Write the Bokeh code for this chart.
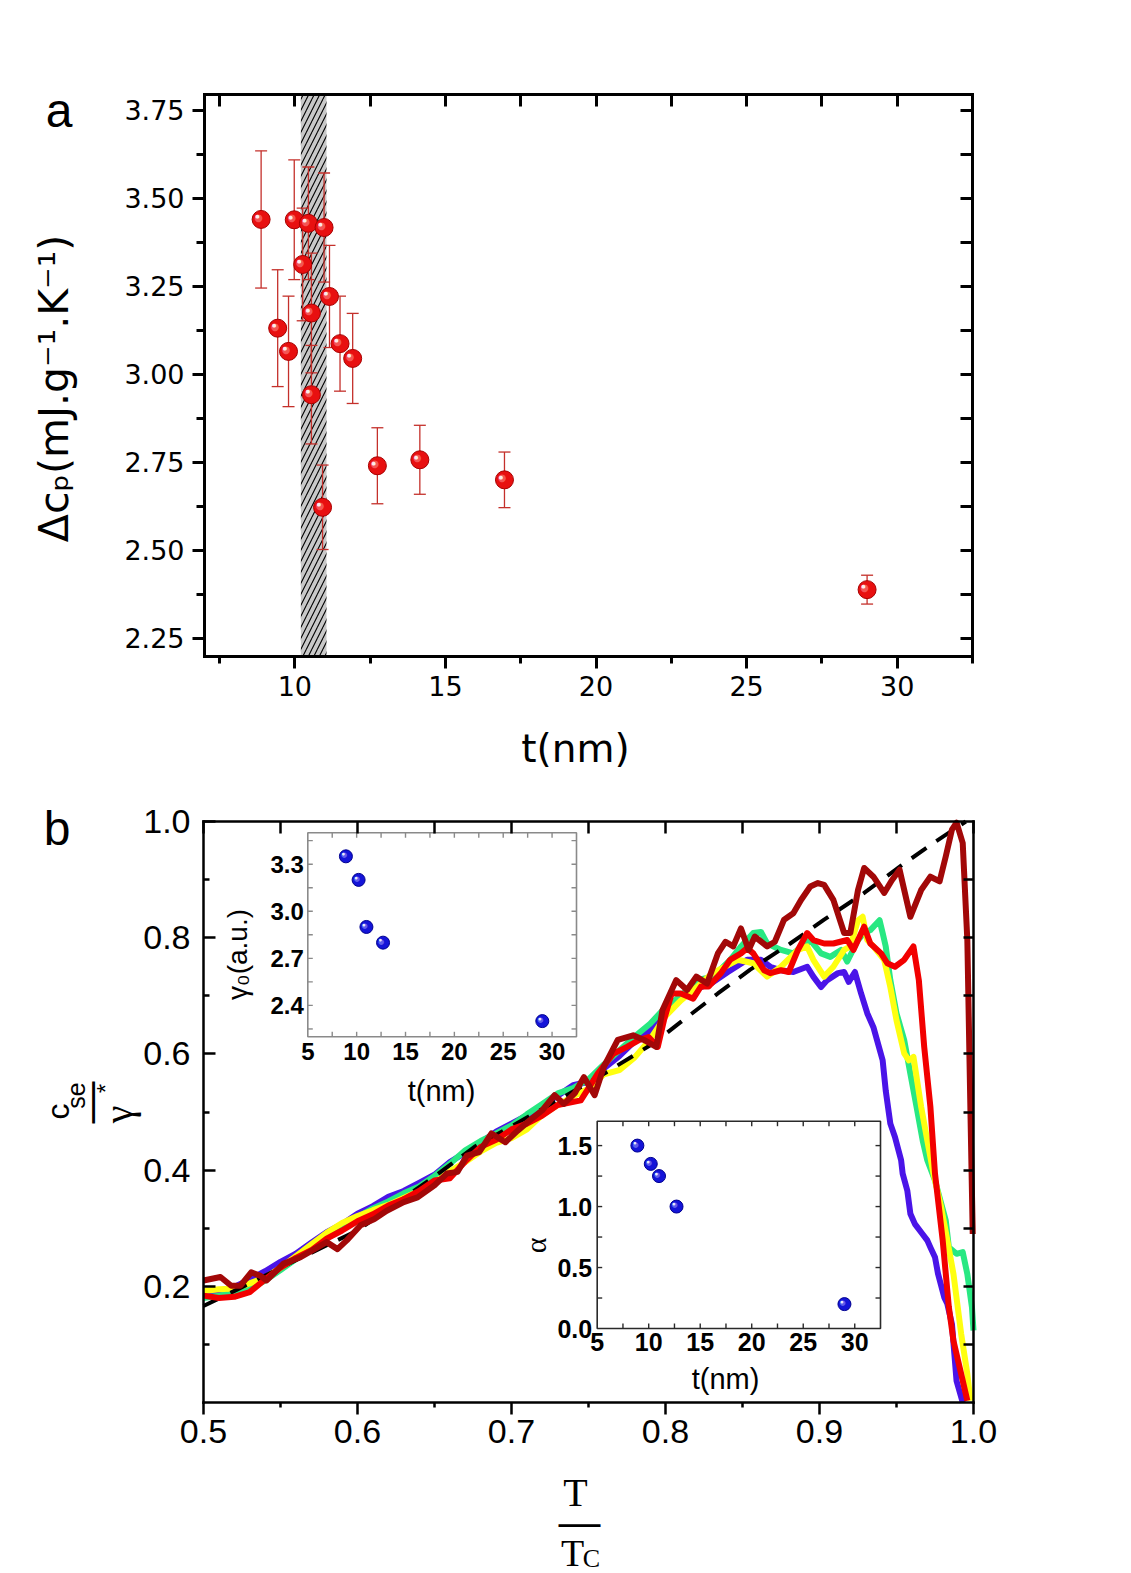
import math
from bokeh.plotting import figure
from bokeh.layouts import column
from bokeh.models import (Range1d, LinearAxis, FixedTicker, NumeralTickFormatter,
                          CustomJSTickFormatter)
from bokeh.core.properties import value
from bokeh.embed import file_html
from bokeh.resources import INLINE

SANS = "Liberation Sans"
WIDE = "DejaVu Sans"
SERIF = "Liberation Serif"
PAGE_W = 1131

# ---------------- panel a: jump of the specific heat vs film thickness ----------------
thickness_nm = [8.88, 9.43, 9.79, 9.98, 10.26, 10.45, 10.55, 10.55, 10.97,
                10.92, 11.15, 11.50, 11.92, 12.74, 14.15, 16.96, 29.0]
delta_cp = [3.440, 3.131, 3.065, 3.439, 3.312, 3.429, 3.174, 2.942, 3.417,
            2.622, 3.221, 3.087, 3.045, 2.740, 2.757, 2.700, 2.388]
delta_cp_err = [0.195, 0.166, 0.157, 0.170, 0.160, 0.160, 0.170, 0.140, 0.155,
                0.120, 0.145, 0.135, 0.128, 0.108, 0.098, 0.079, 0.041]
shaded_t = (10.2, 11.05)

# ---------------- panel b: normalised electronic specific heat ----------------
blue_T = [0.50, 0.51, 0.52, 0.53, 0.54, 0.55, 0.56, 0.57, 0.58, 0.59,
          0.60, 0.61, 0.62, 0.63, 0.64, 0.65, 0.66, 0.67, 0.68, 0.69,
          0.70, 0.71, 0.72, 0.73, 0.74, 0.75, 0.76, 0.77, 0.78, 0.79,
          0.80, 0.81, 0.82, 0.83, 0.84,
          0.853, 0.862, 0.868, 0.875, 0.883, 0.892, 0.896, 0.901, 0.905, 0.912,
          0.916, 0.919, 0.923, 0.927, 0.931, 0.935, 0.941, 0.943, 0.946, 0.949,
          0.953, 0.954, 0.957, 0.959, 0.962, 0.966, 0.970, 0.972, 0.975, 0.977,
          0.981, 0.983, 0.986, 0.989, 0.993]
blue_c = [0.190, 0.192, 0.199, 0.212, 0.226, 0.242, 0.256, 0.275, 0.293, 0.307,
          0.325, 0.338, 0.354, 0.364, 0.378, 0.392, 0.414, 0.430, 0.447, 0.466,
          0.480, 0.494, 0.512, 0.528, 0.546, 0.552, 0.575, 0.596, 0.622, 0.640,
          0.668, 0.695, 0.712, 0.722, 0.740,
          0.762, 0.762, 0.750, 0.744, 0.741, 0.750, 0.733, 0.715, 0.727, 0.739,
          0.741, 0.724, 0.741, 0.704, 0.670, 0.646, 0.589, 0.537, 0.480, 0.457,
          0.417, 0.394, 0.365, 0.325, 0.307, 0.293, 0.279, 0.267, 0.250, 0.221,
          0.181, 0.170, 0.135, 0.037, 0.000]

green_T = [0.50, 0.51, 0.52, 0.53, 0.54, 0.55, 0.56, 0.57, 0.58, 0.59,
           0.60, 0.61, 0.62, 0.63, 0.64, 0.65, 0.66, 0.67, 0.68, 0.69,
           0.70, 0.71, 0.72, 0.73, 0.74, 0.75, 0.76, 0.77, 0.78, 0.79,
           0.80, 0.81, 0.82,
           0.831, 0.842, 0.849, 0.857, 0.862, 0.866, 0.875, 0.883, 0.894, 0.901,
           0.907, 0.914, 0.918, 0.925, 0.929, 0.933, 0.939, 0.941, 0.943, 0.946,
           0.950, 0.955, 0.959, 0.963, 0.967, 0.970, 0.975, 0.982, 0.984, 0.989,
           0.993, 0.996, 0.999, 1.000]
green_c = [0.180, 0.184, 0.189, 0.196, 0.210, 0.228, 0.247, 0.265, 0.282, 0.301,
           0.319, 0.334, 0.346, 0.360, 0.372, 0.390, 0.411, 0.434, 0.450, 0.463,
           0.477, 0.496, 0.514, 0.532, 0.541, 0.556, 0.582, 0.606, 0.630, 0.652,
           0.680, 0.700, 0.727,
           0.733, 0.762, 0.785, 0.808, 0.810, 0.790, 0.779, 0.773, 0.796, 0.773,
           0.767, 0.779, 0.759, 0.796, 0.808, 0.813, 0.830, 0.808, 0.785, 0.727,
           0.670, 0.624, 0.566, 0.509, 0.451, 0.417, 0.382, 0.313, 0.267, 0.256,
           0.259, 0.221, 0.164, 0.124]

yellow_T = [0.50, 0.51, 0.52, 0.53, 0.54, 0.55, 0.56, 0.57, 0.58, 0.59,
            0.60, 0.61, 0.62, 0.63, 0.64, 0.65, 0.66, 0.67, 0.68, 0.69,
            0.70, 0.71, 0.72, 0.73, 0.74, 0.75, 0.76, 0.77, 0.78, 0.79,
            0.80, 0.81, 0.82, 0.83,
            0.847, 0.857, 0.866, 0.875, 0.886, 0.892, 0.896, 0.903, 0.909, 0.916,
            0.920, 0.925, 0.928, 0.931, 0.935, 0.942, 0.946, 0.950, 0.955, 0.958,
            0.961, 0.966, 0.970, 0.974, 0.979, 0.983, 0.987, 0.992, 0.996, 0.998]
yellow_c = [0.192, 0.195, 0.196, 0.205, 0.215, 0.232, 0.252, 0.272, 0.292, 0.309,
            0.321, 0.331, 0.340, 0.352, 0.364, 0.378, 0.398, 0.414, 0.432, 0.447,
            0.455, 0.470, 0.495, 0.512, 0.527, 0.540, 0.565, 0.572, 0.594, 0.625,
            0.665, 0.692, 0.714, 0.738,
            0.762, 0.756, 0.733, 0.750, 0.779, 0.785, 0.762, 0.733, 0.750, 0.779,
            0.785, 0.830, 0.836, 0.796, 0.785, 0.762, 0.715, 0.658, 0.601, 0.589,
            0.595, 0.509, 0.451, 0.394, 0.336, 0.279, 0.221, 0.118, 0.049, 0.003]

red_T = [0.50, 0.51, 0.52, 0.53, 0.54, 0.55, 0.56, 0.57, 0.58, 0.59,
         0.60, 0.61, 0.62, 0.63, 0.64, 0.65, 0.66, 0.67, 0.68, 0.69,
         0.70, 0.71, 0.72, 0.73,
         0.745, 0.756, 0.766, 0.775, 0.783, 0.789, 0.795, 0.799, 0.804, 0.810,
         0.818, 0.823, 0.828, 0.836, 0.842, 0.849, 0.853, 0.857, 0.864, 0.868,
         0.875, 0.880, 0.886, 0.892, 0.896, 0.903, 0.909, 0.918, 0.922, 0.929,
         0.933, 0.940, 0.944, 0.949, 0.955, 0.961, 0.9645, 0.968, 0.972, 0.975,
         0.980, 0.984, 0.987, 0.992, 0.996]
red_c = [0.184, 0.180, 0.182, 0.190, 0.212, 0.232, 0.249, 0.262, 0.282, 0.296,
         0.312, 0.324, 0.339, 0.350, 0.364, 0.382, 0.386, 0.415, 0.440, 0.452,
         0.470, 0.480, 0.494, 0.512,
         0.520, 0.566, 0.600, 0.612, 0.624, 0.629, 0.612, 0.658, 0.704, 0.704,
         0.695, 0.716, 0.716, 0.739, 0.762, 0.773, 0.782, 0.773, 0.744, 0.739,
         0.744, 0.741, 0.779, 0.808, 0.796, 0.790, 0.790, 0.796, 0.779, 0.819,
         0.790, 0.773, 0.756, 0.750, 0.762, 0.785, 0.727, 0.612, 0.509, 0.394,
         0.279, 0.164, 0.106, 0.049, 0.003]

darkred_T = [0.500, 0.511, 0.518, 0.524, 0.531, 0.537, 0.541, 0.552, 0.563, 0.574,
             0.580, 0.587, 0.593, 0.602, 0.611, 0.619, 0.630, 0.639, 0.650, 0.658,
             0.665, 0.671, 0.679, 0.687, 0.696, 0.704, 0.712, 0.720, 0.728, 0.734,
             0.741, 0.747, 0.754, 0.760, 0.769, 0.779, 0.786, 0.794, 0.798, 0.807,
             0.814, 0.820, 0.827, 0.834, 0.839, 0.844, 0.849, 0.854, 0.858, 0.866,
             0.871, 0.877, 0.883, 0.888, 0.894, 0.899, 0.903, 0.909, 0.916, 0.920,
             0.925, 0.929, 0.935, 0.942, 0.947, 0.952, 0.959, 0.966, 0.972, 0.978,
             0.982, 0.986, 0.989, 0.993, 0.996, 0.998, 0.9995]
darkred_c = [0.210, 0.216, 0.201, 0.201, 0.224, 0.218, 0.210, 0.239, 0.250, 0.267,
             0.276, 0.264, 0.279, 0.305, 0.316, 0.330, 0.345, 0.353, 0.374, 0.394,
             0.397, 0.425, 0.431, 0.463, 0.448, 0.468, 0.486, 0.503, 0.529, 0.514,
             0.532, 0.560, 0.529, 0.578, 0.624, 0.632, 0.624, 0.612, 0.675, 0.727,
             0.710, 0.733, 0.721, 0.773, 0.793, 0.785, 0.816, 0.779, 0.802, 0.785,
             0.793, 0.831, 0.842, 0.865, 0.888, 0.894, 0.891, 0.865, 0.808, 0.808,
             0.882, 0.920, 0.905, 0.877, 0.899, 0.917, 0.836, 0.882, 0.905, 0.897,
             0.940, 0.986, 0.998, 0.963, 0.796, 0.503, 0.290]

fit_T = [0.50, 0.53, 0.56, 0.60, 0.65, 0.676, 0.697, 0.734, 0.762, 0.792,
         0.810, 0.834, 0.855, 0.881, 0.903, 0.929, 0.953, 0.974, 0.995]
fit_c = [0.166, 0.205, 0.245, 0.296, 0.389, 0.440, 0.471, 0.526, 0.569, 0.618,
         0.655, 0.704, 0.745, 0.790, 0.831, 0.877, 0.924, 0.963, 1.000]

# ---------------- insets ----------------
inset_t = [8.9, 10.2, 11.0, 12.7, 29.0]
inset_gamma0 = [3.35, 3.20, 2.90, 2.80, 2.30]
inset_alpha = [1.50, 1.35, 1.25, 1.00, 0.20]

UP = math.pi / 2
DROP = 0.25      # the text glyph sits its alphabetic anchor this many em too low


class Panel:
    """A figure whose canvas is all frame; the plotting box sits at a given place of
    the page and the axes are pinned to its edges, so titles can live in the margins."""

    def __init__(self, page_top, height, box, xlim, ylim, lw):
        l, r, t, b = box
        self.page_top, self.height, self.box = page_top, height, box
        self.xlim, self.ylim, self.lw = xlim, ylim, lw
        self.kx = (r - l) / (xlim[1] - xlim[0])           # pixels per unit
        self.ky = (b - t) / (ylim[1] - ylim[0])
        x0 = xlim[0] - l / self.kx
        y0 = ylim[0] - (page_top + height - b) / self.ky
        self.fig = figure(width=PAGE_W, height=height,
                          x_range=Range1d(x0, x0 + PAGE_W / self.kx),
                          y_range=Range1d(y0, y0 + height / self.ky),
                          x_axis_location=None, y_axis_location=None, min_border=0,
                          toolbar_location=None, output_backend="svg", title=None,
                          outline_line_color=None, background_fill_color="white",
                          border_fill_color="white")
        self.fig.xgrid.visible = False
        self.fig.ygrid.visible = False

    def x(self, px):
        return self.xlim[0] + (px - self.box[0]) / self.kx

    def y(self, py):
        return self.ylim[0] + (self.box[3] - py) / self.ky

    def axis(self, side, ticks, minor=(), t_in=0, t_out=0, m_in=0, m_out=0,
             font=SANS, size="10px", standoff=0, fmt=None, blank=False):
        loc = {"left": self.xlim[0], "right": self.xlim[1],
               "below": self.ylim[0], "above": self.ylim[1]}[side]
        bounds = self.ylim if side in ("left", "right") else self.xlim
        ax = LinearAxis(fixed_location=loc, bounds=bounds,
                        ticker=FixedTicker(ticks=list(ticks), minor_ticks=list(minor)))
        ax.axis_line_width = self.lw
        ax.axis_line_color = "black"
        ax.axis_line_cap = "square"
        ax.major_tick_line_width = self.lw
        ax.minor_tick_line_width = self.lw
        ax.major_tick_in, ax.major_tick_out = t_in, t_out
        ax.minor_tick_in, ax.minor_tick_out = m_in, m_out
        ax.major_label_text_font = font
        ax.major_label_text_font_size = size
        ax.major_label_text_color = "black"
        ax.major_label_standoff = standoff
        if blank:
            ax.formatter = CustomJSTickFormatter(code="return ''")
        elif fmt:
            ax.formatter = NumeralTickFormatter(format=fmt)
        self.fig.add_layout(ax, side)

    def put(self, px, py, text, font, size, angle=0.0, align="center"):
        """Write a title whose baseline passes through page pixel (px, py)."""
        d = DROP * float(size.rstrip("px"))
        if angle:
            px -= d
        else:
            py -= d
        self.fig.text(x=[self.x(px)], y=[self.y(py)], text=[text],
                      text_font=value(font), text_font_size=size, angle=angle,
                      text_align=align, text_baseline="alphabetic", text_color="black")


def spheres(fig, xs, ys, size, base, edge, shine, **kw):
    fig.scatter(xs, ys, size=size, fill_color=base, line_color=edge, line_width=1, **kw)
    n = len(xs)
    fig.text(xs, ys, text=["\u25cf"] * n, text_font=value(WIDE),
             text_font_size=f"{size * 0.55:.1f}px", text_color=shine, text_alpha=0.55,
             x_offset=-size * 0.14, y_offset=-size * 0.12,
             text_align="center", text_baseline="middle", **kw)
    fig.text(xs, ys, text=["\u25cf"] * n, text_font=value(WIDE),
             text_font_size=f"{size * 0.28:.1f}px", text_color="white", text_alpha=0.9,
             x_offset=-size * 0.2, y_offset=-size * 0.18,
             text_align="center", text_baseline="middle", **kw)


# =============================== panel a ===============================
A = Panel(0, 770, (204, 972, 94, 656), (7.0, 32.5), (2.198, 3.795), 3)
pa = A.fig

# hatched thickness window
pa.quad(left=[shaded_t[0]], right=[shaded_t[1]], bottom=[A.ylim[0]], top=[A.ylim[1]],
        fill_color="#c8c8c8", line_color=None, hatch_pattern="/",
        hatch_color="black", hatch_scale=11, hatch_weight=1.1)

lo = [v - e for v, e in zip(delta_cp, delta_cp_err)]
hi = [v + e for v, e in zip(delta_cp, delta_cp_err)]
ERR = "#c4302b"
pa.segment(x0=thickness_nm, y0=lo, x1=thickness_nm, y1=hi, line_color=ERR, line_width=1.3)
pa.scatter(thickness_nm, lo, marker="dash", size=12, line_color=ERR, line_width=1.3)
pa.scatter(thickness_nm, hi, marker="dash", size=12, line_color=ERR, line_width=1.3)
spheres(pa, thickness_nm, delta_cp, 18, "#e81010", "#a80000", "#ff9090")

A.axis("below", [10, 15, 20, 25, 30], [7.5, 12.5, 17.5, 22.5, 27.5, 32.5],
       t_out=12, m_out=7, font=WIDE, size="27px", standoff=7)
A.axis("left", [2.25 + 0.25 * i for i in range(7)], [2.375 + 0.25 * i for i in range(6)],
       t_out=12, m_out=8, font=WIDE, size="27px", standoff=8, fmt="0.00")
A.axis("above", [7.5 + 2.5 * i for i in range(10)], t_in=12, blank=True)
A.axis("right", [2.25 + 0.125 * i for i in range(13)], t_in=12, blank=True)

A.put(58.5, 122, "a", SANS, "48px")
A.put(64, 388, "\u0394c\u209a(mJ.g\u207b\u00b9.K\u207b\u00b9)", WIDE, "41px", UP)
A.put(575, 758, "t(nm)", WIDE, "39px")

# =============================== panel b ===============================
B = Panel(770, 803, (203, 973, 821, 1402), (0.5, 1.0), (0.0, 1.0), 2.5)
pb = B.fig

LW = 6
pb.line(blue_T, blue_c, line_color="#4a14e8", line_width=LW, line_join="round")
pb.line(green_T, green_c, line_color="#28e882", line_width=LW, line_join="round")
pb.line(yellow_T, yellow_c, line_color="#ffff10", line_width=LW, line_join="round")
pb.line(fit_T, fit_c, line_color="black", line_width=4, line_dash="18 12")
pb.line(red_T, red_c, line_color="#f20000", line_width=LW, line_join="round")
pb.line(darkred_T, darkred_c, line_color="#a20808", line_width=LW, line_join="round")

B.axis("below", [0.5, 0.6, 0.7, 0.8, 0.9, 1.0], [0.55, 0.65, 0.75, 0.85, 0.95],
       t_out=12, m_out=5, size="34px", standoff=5, fmt="0.0")
B.axis("left", [0.2, 0.4, 0.6, 0.8, 1.0], [0.1, 0.3, 0.5, 0.7, 0.9],
       t_in=12, m_in=6, size="34px", standoff=13, fmt="0.0")
B.axis("above", [0.5 + 0.05 * i for i in range(11)], t_in=12, blank=True)
B.axis("right", [0.1 * i for i in range(1, 10)], t_in=10, blank=True)


def inset(key, xlim, ylim, box, frame_color, yticks, ylabels, font_size,
          x_gap, y_gap, t, vals):
    l, r, t_px, b_px = box
    kx = (r - l) / (xlim[1] - xlim[0])
    ky = (b_px - t_px) / (ylim[1] - ylim[0])
    x0 = xlim[0] - l / kx
    y0 = ylim[0] - (B.page_top + B.height - b_px) / ky
    pb.extra_x_ranges[key] = Range1d(x0, x0 + PAGE_W / kx)
    pb.extra_y_ranges[key] = Range1d(y0, y0 + B.height / ky)
    dx, dy = 1 / kx, 1 / ky       # data units per pixel
    kw = dict(x_range_name=key, y_range_name=key)

    pb.quad(left=[xlim[0]], right=[xlim[1]], bottom=[ylim[0]], top=[ylim[1]],
            fill_color="white", line_color=frame_color, line_width=1.6, **kw)
    tick = 5
    xt = [xlim[0] + 2.5 * i for i in range(1, 11)]
    pb.segment(x0=xt, y0=[ylim[0]] * len(xt), x1=xt, y1=[ylim[0] + tick * dy] * len(xt),
               line_color=frame_color, line_width=1.4, **kw)
    pb.segment(x0=xt, y0=[ylim[1]] * len(xt), x1=xt, y1=[ylim[1] - tick * dy] * len(xt),
               line_color=frame_color, line_width=1.4, **kw)
    pb.segment(x0=[xlim[0]] * len(yticks), y0=yticks, x1=[xlim[0] + tick * dx] * len(yticks),
               y1=yticks, line_color=frame_color, line_width=1.4, **kw)
    pb.segment(x0=[xlim[1]] * len(yticks), y0=yticks, x1=[xlim[1] - tick * dx] * len(yticks),
               y1=yticks, line_color=frame_color, line_width=1.4, **kw)

    xl = [5, 10, 15, 20, 25, 30]
    pb.text(x=xl, y=[ylim[0]] * len(xl), text=[str(v) for v in xl],
            text_font=value(SANS), text_font_style="bold", text_font_size=font_size,
            text_align="center", text_baseline="top", y_offset=x_gap, **kw)
    pb.text(x=[xlim[0]] * len(ylabels), y=ylabels, text=[f"{v:.1f}" for v in ylabels],
            text_font=value(SANS), text_font_style="bold", text_font_size=font_size,
            text_align="right", text_baseline="middle", x_offset=-y_gap, **kw)
    spheres(pb, t, vals, 13, "#1414d8", "#000090", "#a0a0ff", **kw)


inset("i1", (5, 32.5), (2.2, 3.5), (307.3, 576, 832.3, 1036.3), "#8a8a8a",
      [2.25 + 0.15 * i for i in range(9)], [2.4, 2.7, 3.0, 3.3], "24px", 6, 4,
      inset_t, inset_gamma0)
inset("i2", (5, 32.5), (0.0, 1.7), (596.7, 880, 1120.7, 1328), "#2a2a2a",
      [0.25 * i for i in range(1, 7)], [0.0, 0.5, 1.0, 1.5], "25px", 4, 5,
      inset_t, inset_alpha)

# inset titles
B.put(441, 1098, "t(nm)", SANS, "29px")
B.put(244, 954, "\u03b3\u2080(a.u.)", SANS, "28px", UP)
B.put(725, 1386, "t(nm)", SANS, "29px")
B.put(542, 1245, "\u03b1", SERIF, "30px", UP)

# panel letter and the two fraction titles
B.put(56.5, 840, "b", SANS, "48px")
B.put(65, 1111, "c", SANS, "32px", UP)
B.put(82, 1095, "se", SANS, "25px", UP)
B.put(99, 1102, "\u2014", SANS, "42px", UP)
B.put(111, 1088, "*", SANS, "24px", UP)
B.put(128, 1114, "\u03b3", SERIF, "40px", UP)
B.put(575, 1502, "T", SERIF, "40px")
B.put(579, 1531, "\u2014", SANS, "42px")
B.put(572, 1562, "T", SERIF, "38px")
B.put(591, 1564, "C", SERIF, "26px")

layout = column(pa, pb)
open("out.html", "w").write(file_html(layout, INLINE))
